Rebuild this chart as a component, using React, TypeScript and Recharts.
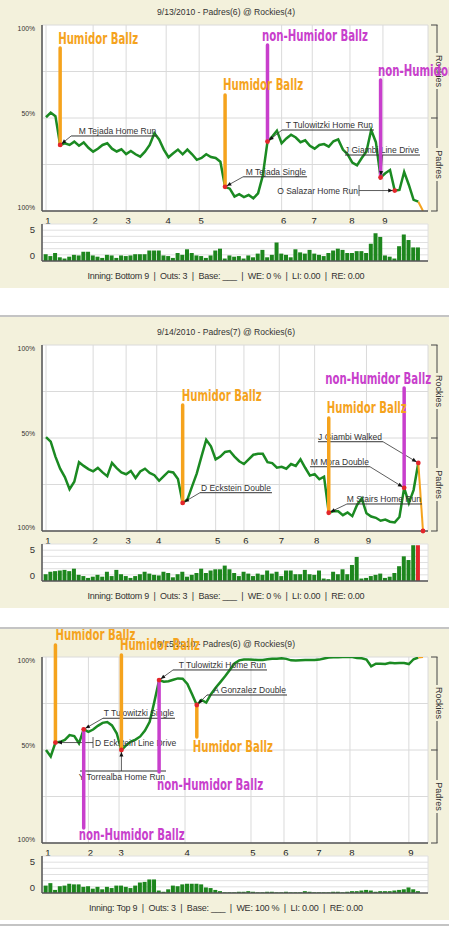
import React from "react";
import {
  LineChart,
  Line,
  BarChart,
  Bar,
  Cell,
  XAxis,
  YAxis,
  CartesianGrid,
  ReferenceLine,
  ReferenceDot,
} from "recharts";

// Rockies win expectancy (%) after each plate appearance, 0 = first pitch
const we0913 = [
  50.4, 52.9, 51, 35.5, 36.4, 35.5, 37.3, 35.1, 36.9, 34,
  31.9, 33.5, 35.5, 36.4, 33.5, 32, 33.2, 30.6, 32.3, 30.5,
  29.2, 31.9, 35.5, 41.8, 38.5, 33, 28.9, 31, 33, 30.5,
  33, 30.5, 27.5, 28.5, 30.5, 29, 28.5, 26.5, 13, 12,
  7.8, 9.1, 7.5, 8.6, 6.8, 9.5, 19, 37.3, 40, 43.2,
  36.4, 39, 41, 39.5, 37, 38, 35, 33.5, 35.5, 36,
  34.6, 37.5, 38.5, 33, 30.5, 26, 24.5, 28.5, 32, 43.5,
  37, 18, 20.3, 22, 11, 11.3, 21, 14, 6, 5,
  0,
];
// leverage index of each plate appearance
const li0913 = [
  1.1, 0.8, 1.3, 0.6, 0.4, 0.7, 1.0, 0.9, 1.5, 1.5,
  0.9, 0.7, 0.5, 1.0, 0.9, 0.5, 0.9, 0.8, 0.9, 1.1,
  1.1, 1.1, 1.7, 1.7, 1.7, 0.9, 0.8, 0.5, 1.3, 1.0,
  1.9, 1.3, 0.9, 0.8, 0.5, 0.9, 1.7, 2.0, 0.4, 0.9,
  0.7, 0.8, 0.4, 0.9, 0.6, 1.2, 1.8, 0.6, 1.0, 3.0,
  1.2, 1.0, 0.6, 1.9, 1.4, 1.2, 1.8, 1.2, 1.0, 0.8,
  1.3, 1.7, 2.0, 1.8, 1.3, 1.3, 1.6, 1.6, 1.3, 2.8,
  4.5, 3.9, 0.9, 0.7, 0.4, 2.4, 4.3, 3.4, 2.2, 2.2,
];
const innings0913 = [0, 10, 17, 25.5, 32.5, 50, 56.5, 64.5, 71.5];

const we0914 = [
  50.5, 48, 40, 33.5, 29, 22.5, 26.5, 37, 35, 33.3,
  32.1, 33.9, 31.5, 29.5, 36.6, 33.8, 31.5, 30.5, 32.3, 28.5,
  32, 33.5, 31.2, 30, 27, 29.5, 32, 31.5, 28, 15.1,
  16.9, 24, 31, 40.1, 49, 45.5, 38.5, 40, 42.5, 43,
  40, 37.5, 36, 38.5, 41, 41.5, 41.5, 37, 36.5, 34,
  34.5, 33.5, 36, 35, 38.5, 34, 29.8, 30.6, 27.8, 29.2,
  9.8, 10.6, 10.6, 8.5, 10, 8, 14, 17.5, 9.5, 7.8,
  7.1, 5.5, 6.1, 5, 4.6, 7.5, 23.2, 15, 22, 36.6,
  0,
];
const li0914 = [
  1.1, 1.5, 1.6, 1.7, 1.8, 1.6, 2.0, 1.0, 0.8, 0.5,
  0.7, 1.0, 0.7, 1.5, 0.8, 1.8, 1.1, 0.8, 0.5, 0.8,
  1.1, 1.5, 1.2, 1.0, 0.9, 1.5, 1.3, 0.6, 1.1, 1.5,
  0.7, 1.0, 1.3, 2.0, 1.3, 1.7, 1.9, 1.9, 2.5, 1.9,
  1.3, 0.8, 1.5, 1.2, 0.8, 1.2, 1.0, 1.7, 1.2, 1.5,
  0.8, 1.7, 1.7, 1.1, 1.1, 1.8, 1.1, 1.0, 1.7, 0.4,
  0.3, 1.5, 1.1, 1.9, 1.1, 2.6, 3.9, 0.4, 0.5, 0.8,
  1.0, 1.2, 0.5, 0.7, 1.3, 2.4, 4.0, 3.4, 5.8, 5.8,
];
const innings0914 = [0, 10, 17, 23.5, 36, 42, 49.5, 57, 68];

const we0915 = [
  50, 46.5, 54, 54.4, 55.4, 58, 57.5, 53.6, 61.1, 59.8,
  61, 63, 64.6, 65, 63.2, 59, 50, 52.5, 54.5, 55.6,
  57.3, 60.5, 65.2, 76, 87.6, 86.7, 87, 87.8, 88.5, 88.3,
  85.5, 80, 74.2, 76.9, 75.5, 80, 83.5, 86.5, 89.6, 93,
  96.5, 98.2, 98.6, 98.6, 98.5, 98.4, 98.4, 98.8, 99, 99.1,
  99.3, 99, 98.2, 98.1, 98.3, 98.4, 98.4, 98.4, 98.6, 99.2,
  99.7, 99.8, 99.9, 100, 100, 100, 99.5, 99.3, 98.6, 95,
  96.4, 96.4, 96.2, 96.9, 96.6, 96.8, 96.8, 96.2, 98.8, 99.7,
  100,
];
const li0915 = [
  1.2, 1.6, 0.5, 1.1, 1.2, 1.5, 1.4, 1.4, 1.0, 1.1,
  0.7, 1.0, 0.6, 1.0, 0.8, 1.2, 1.2, 1.0, 0.8, 1.2,
  1.7, 1.8, 2.2, 2.2, 0.4, 0.2, 0.6, 1.2, 1.1, 1.4,
  1.5, 1.5, 1.5, 1.4, 0.9, 0.8, 0.5, 0.3, 0.1, 0.1,
  0.1, 0.2, 0.2, 0.3, 0.2, 0.1, 0.1, 0.2, 0.2, 0.1,
  0.1, 0.2, 0.1, 0.1, 0.1, 0.3, 0.2, 0.1, 0.1, 0.1,
  0.1, 0.2, 0.2, 0.1, 0.2, 0.3, 0.3, 0.4, 0.5, 0.4,
  0.2, 0.3, 0.3, 0.3, 0.4, 0.5, 0.6, 0.9, 0.6, 0.3,
];
const innings0915 = [0, 9, 15.5, 29.5, 43.5, 50.5, 57.5, 64.5, 77];

// labelled plays
const plays0913 = [
  { pa: 3, text: "M Tejada Home Run" },
  { pa: 38, text: "M Tejada Single" },
  { pa: 47, text: "T Tulowitzki Home Run" },
  { pa: 71, text: "J Giambi Line Drive" },
  { pa: 74, text: "O Salazar Home Run" },
];
const plays0914 = [
  { pa: 29, text: "D Eckstein Double" },
  { pa: 60, text: "M Stairs Home Run" },
  { pa: 76, text: "M Mora Double" },
  { pa: 79, text: "J Giambi Walked" },
];
const plays0915 = [
  { pa: 2, text: "D Eckstein Line Drive" },
  { pa: 8, text: "T Tulowitzki Single" },
  { pa: 16, text: "Y Torrealba Home Run" },
  { pa: 24, text: "T Tulowitzki Home Run" },
  { pa: 32, text: "A Gonzalez Double" },
];

// hand-drawn markers: humidor balls or not
const ballz0913 = [
  { pa: 3, humidor: true },
  { pa: 38, humidor: true },
  { pa: 47, humidor: false },
  { pa: 71, humidor: false },
];
const ballz0914 = [
  { pa: 29, humidor: true },
  { pa: 60, humidor: true },
  { pa: 76, humidor: false },
];
const ballz0915 = [
  { pa: 2, humidor: true },
  { pa: 16, humidor: true },
  { pa: 32, humidor: true },
  { pa: 8, humidor: false },
  { pa: 24, humidor: false },
];

// label placement, pixels from the play's point
type PlayPos =
  | { kind: "line"; ux1: number; ux2: number; uy: number; lx: number }
  | { kind: "bracket"; bx: number };
const playPos0913: PlayPos[] = [
  { kind: "line", ux1: 11, ux2: 97, uy: -9, lx: 11 },
  { kind: "line", ux1: 18, ux2: 82, uy: -10, lx: 18 },
  { kind: "line", ux1: 14.5, ux2: 106.5, uy: -11.6, lx: 14.5 },
  { kind: "line", ux1: -35.6, ux2: 39.4, uy: -22.5, lx: 2 },
  { kind: "bracket", bx: -35.7 },
];
const playPos0914: PlayPos[] = [
  { kind: "line", ux1: 17.3, ux2: 89.3, uy: -10.2, lx: 17.3 },
  { kind: "line", ux1: 18.2, ux2: 93.2, uy: -8.8, lx: 18.2 },
  { kind: "line", ux1: -94.2, ux2: -34.2, uy: -21.1, lx: -34.2 },
  { kind: "line", ux1: -100.3, ux2: -35.3, uy: -21.2, lx: -35.3 },
];
const playPos0915: PlayPos[] = [
  { kind: "bracket", bx: 37.6 },
  { kind: "line", ux1: 19.3, ux2: 91.3, uy: -11.1, lx: 19.3 },
  { kind: "line", ux1: -41.4, ux2: 44.6, uy: 21, lx: 0 },
  { kind: "line", ux1: 13.9, ux2: 107.9, uy: -10.1, lx: 13.9 },
  { kind: "line", ux1: 10.2, ux2: 90.2, uy: -10, lx: 10.2 },
];
// marker stick end (in chart units) and text offset from it
type BallzPos = { to: number; dx: number; dy: number };
const ballzPos0913: BallzPos[] = [
  { to: 87.6, dx: -2, dy: -10 },
  { to: 62.4, dx: -2, dy: -10 },
  { to: 89.2, dx: -5.5, dy: -10 },
  { to: 70.4, dx: -2.6, dy: -10 },
];
const ballzPos0914: BallzPos[] = [
  { to: 67.7, dx: -1, dy: -10 },
  { to: 60.8, dx: -2, dy: -10 },
  { to: 76.9, dx: -79, dy: -9 },
];
const ballzPos0915: BallzPos[] = [
  { to: 106.5, dx: 0, dy: -10 },
  { to: 101.1, dx: -1.5, dy: -10 },
  { to: 57, dx: -4, dy: 10 },
  { to: 8.1, dx: -5, dy: 7 },
  { to: 38.2, dx: -2, dy: 13 },
];

const W = 449;
const PLOT_T = 25;
const PLOT_B = 211;
const X_DOMAIN: [number, number] = [-0.85, 81.06];
const SANS = "'Liberation Sans', Arial, sans-serif";
const BALLZ_FONT = "'DejaVu Sans Condensed', 'DejaVu Sans', sans-serif";
const BEIGE = "#f3f1dc";
const GREEN = "#1b8a22";
const BAR_GREEN = "#1d861d";
const ORANGE = "#f5a31d";
const MAGENTA = "#c83fcc";
const RED = "#e3262b";
const INK = "#333";

type Play = { pa: number; text: string };
type Ballz = { pa: number; humidor: boolean };

const pctTick = (p: any) => {
  const v = p.payload.value;
  if (v !== 0 && v !== 50 && v !== 100) return <g />;
  const dy = v === 100 ? 3 : v === 50 ? -4.5 : -4;
  return (
    <text x={35} y={p.y + dy} textAnchor="end" dominantBaseline="central"
      fontSize={6.8} fill={INK} fontFamily={SANS}>
      {v === 50 ? "50%" : "100%"}
    </text>
  );
};

const liTick = (p: any) => {
  const v = p.payload.value;
  if (v !== 0 && v !== 5) return <g />;
  return (
    <text x={35} y={p.y + (v === 0 ? -6 : -1)} textAnchor="end" dominantBaseline="central"
      fontSize={9.5} fill={INK} fontFamily={SANS}>
      {v}
    </text>
  );
};

const inningTick = (innings: number[]) => (p: any) => (
  <text x={p.x + 2} y={PLOT_B + 12} textAnchor="middle" dominantBaseline="central"
    fontSize={9.5} fill="#222" fontFamily={SANS}>
    {innings.indexOf(p.payload.value) + 1}
  </text>
);

const leadOf = (pos: PlayPos): [number, number] =>
  pos.kind === "bracket" ? [pos.bx, 0] : [pos.lx, pos.uy];

const playShape = (pos: PlayPos, text: string) => (props: any) => {
  const { cx, cy } = props;
  if (typeof cx !== "number" || typeof cy !== "number") return <g />;
  const font = { fontFamily: SANS, fontSize: 8.5, fill: INK };
  if (pos.kind === "bracket") {
    const bx = cx + pos.bx;
    return (
      <g>
        <line x1={bx} y1={cy} x2={cx} y2={cy} stroke={INK} strokeWidth={0.8} />
        <line x1={bx} y1={cy - 5.5} x2={bx} y2={cy + 5.5} stroke={INK} strokeWidth={0.8} />
        <text x={pos.bx < 0 ? bx - 1 : bx + 2} y={cy} textAnchor={pos.bx < 0 ? "end" : "start"}
          dominantBaseline="central" {...font}>
          {text}
        </text>
      </g>
    );
  }
  const ly = cy + pos.uy;
  return (
    <g>
      <line x1={cx} y1={cy} x2={cx + pos.lx} y2={ly} stroke={INK} strokeWidth={0.8} />
      <line x1={cx + pos.ux1} y1={ly} x2={cx + pos.ux2} y2={ly} stroke={INK} strokeWidth={1} />
      <text x={cx + pos.ux2 - 1} y={pos.uy > 0 ? ly + 6 : ly - 5} textAnchor="end"
        dominantBaseline="central" {...font}>
        {text}
      </text>
    </g>
  );
};

const dotShape = (lead: [number, number]) => (props: any) => {
  const { cx, cy } = props;
  if (typeof cx !== "number" || typeof cy !== "number") return <g />;
  const len = Math.hypot(lead[0], lead[1]) || 1;
  const ux = lead[0] / len;
  const uy = lead[1] / len;
  const tx = cx + ux * 2;
  const ty = cy + uy * 2;
  const bx = tx + ux * 4.5;
  const by = ty + uy * 4.5;
  return (
    <g>
      <circle cx={cx} cy={cy} r={2.4} fill={RED} />
      <polygon
        points={`${tx},${ty} ${bx - uy * 2},${by + ux * 2} ${bx + uy * 2},${by - ux * 2}`}
        fill="#111"
      />
    </g>
  );
};

const ballzShape = (b: Ballz, pos: BallzPos) => (props: any) => (
  <text x={props.cx + pos.dx} y={props.cy + pos.dy} dominantBaseline="central"
    fontFamily={BALLZ_FONT} fontWeight={700} fontSize={16}
    fill={b.humidor ? ORANGE : MAGENTA}
    textLength={b.humidor ? 80 : 106} lengthAdjust="spacingAndGlyphs">
    {b.humidor ? "Humidor Ballz" : "non-Humidor Ballz"}
  </text>
);

type PanelProps = {
  top: number;
  title: string;
  footer: string;
  footerWidth: number;
  we: number[];
  li: number[];
  innings: number[];
  plays: Play[];
  playPos: PlayPos[];
  ballz: Ballz[];
  ballzPos: BallzPos[];
  mark?: number;
};

function GamePanel(p: PanelProps) {
  const n = p.we.length - 1;
  const lineData = p.we.map((v, i) => ({
    pa: i,
    we: i < n ? v : null,
    last: i >= n - 1 ? v : null,
  }));
  const barData = p.li.map((v, i) => ({ pa: i, li: v }));
  const mid = (PLOT_T + PLOT_B) / 2;

  return (
    <div style={{ position: "absolute", left: 0, top: p.top - 3, width: W, height: 291, background: BEIGE, overflow: "hidden" }}>
      <div style={{ position: "absolute", left: 0, top: 3, width: W, height: 288 }}>
        <svg width={W} height={288} style={{ position: "absolute", left: 0, top: 0 }}>
          <text x={226} y={12} textAnchor="middle" dominantBaseline="central" fontFamily={SANS}
            fontSize={9} fill={INK} textLength={138} lengthAdjust="spacingAndGlyphs">
            {p.title}
          </text>
          <text x={226} y={276} textAnchor="middle" dominantBaseline="central" fontFamily={SANS}
            fontSize={9} fill={INK} textLength={p.footerWidth} lengthAdjust="spacing"
            style={{ whiteSpace: "pre" }}>
            {p.footer}
          </text>
          <line x1={437} x2={437} y1={PLOT_T} y2={PLOT_B} stroke="#444" />
          {[PLOT_T, mid, PLOT_B].map((y) => (
            <line key={y} x1={431} x2={437.5} y1={y} y2={y} stroke="#444" />
          ))}
          <rect x={433} y={53} width={9} height={36} fill={BEIGE} />
          <text x={439} y={71} transform="rotate(90 439 71)" textAnchor="middle"
            dominantBaseline="central" fontFamily={SANS} fontSize={9} fill={INK}>
            Rockies
          </text>
          <rect x={433} y={148} width={9} height={33} fill={BEIGE} />
          <text x={439} y={164.5} transform="rotate(90 439 164.5)" textAnchor="middle"
            dominantBaseline="central" fontFamily={SANS} fontSize={9} fill={INK}>
            Padres
          </text>
        </svg>

        <div style={{ position: "absolute", left: 0, top: -3 }}>
          <LineChart width={W} height={233} data={lineData}
            margin={{ top: PLOT_T + 3, right: 21, left: 6, bottom: 3 }}>
            <CartesianGrid stroke="#dadada" fill="#fff" />
            <XAxis type="number" dataKey="pa" domain={X_DOMAIN} ticks={p.innings} interval={0}
              allowDataOverflow height={16} tickLine={false} tickSize={0}
              axisLine={{ stroke: "#555", strokeWidth: 1.5 }} tick={inningTick(p.innings)} />
            <YAxis type="number" domain={[0, 100]} ticks={[0, 25, 50, 75, 100]} interval={0}
              allowDataOverflow width={36} tickLine={false}
              axisLine={{ stroke: "#555", strokeWidth: 1.5 }} tick={pctTick} />
            <Line type="linear" dataKey="we" stroke={GREEN} strokeWidth={2.5} dot={false}
              isAnimationActive={false} zIndex={400} />
            <Line type="linear" dataKey="last" stroke={ORANGE} strokeWidth={2} dot={false}
              isAnimationActive={false} zIndex={400} />
            {p.plays.map((pl, i) => (
              <ReferenceDot key={`lab${i}`} x={pl.pa} y={p.we[pl.pa]} r={0}
                ifOverflow="visible" zIndex={500} shape={playShape(p.playPos[i], pl.text)} />
            ))}
            {p.ballz.map((b, i) => (
              <ReferenceLine key={`stick${i}`}
                segment={[{ x: b.pa, y: p.we[b.pa] }, { x: b.pa, y: p.ballzPos[i].to }]}
                stroke={b.humidor ? ORANGE : MAGENTA} strokeWidth={3.5} strokeLinecap="round"
                ifOverflow="visible" zIndex={600} />
            ))}
            {p.plays.map((pl, i) => (
              <ReferenceDot key={`dot${i}`} x={pl.pa} y={p.we[pl.pa]} r={2.4}
                ifOverflow="visible" zIndex={700} shape={dotShape(leadOf(p.playPos[i]))} />
            ))}
            {p.mark !== undefined && (
              <ReferenceDot x={p.mark} y={p.we[p.mark]} r={2.4} fill={RED} stroke="none"
                ifOverflow="visible" zIndex={700} />
            )}
            {p.ballz.map((b, i) => (
              <ReferenceDot key={`txt${i}`} x={b.pa} y={p.ballzPos[i].to} r={0}
                ifOverflow="visible" zIndex={800} shape={ballzShape(b, p.ballzPos[i])} />
            ))}
          </LineChart>
        </div>

        <div style={{ position: "absolute", left: 0, top: 220 }}>
          <BarChart width={W} height={46} data={barData}
            margin={{ top: 4, right: 21, left: 6, bottom: 4 }}>
            <CartesianGrid stroke="#e0e0e0" fill="#fff" />
            <XAxis type="number" dataKey="pa" domain={X_DOMAIN} ticks={p.innings} interval={0}
              allowDataOverflow height={1} tick={false} tickLine={false}
              axisLine={{ stroke: "#555", strokeWidth: 1.5 }} />
            <YAxis type="number" domain={[0, 6]} ticks={[0, 1, 2, 3, 4, 5, 6]} interval={0}
              allowDataOverflow width={36} tickLine={false}
              axisLine={{ stroke: "#555", strokeWidth: 1.5 }} tick={liTick} />
            <Bar dataKey="li" barSize={4} isAnimationActive={false} fill={BAR_GREEN}>
              {barData.map((d, i) => (
                <Cell key={i} fill={p.mark !== undefined && i === p.mark - 1 ? RED : BAR_GREEN} />
              ))}
            </Bar>
          </BarChart>
        </div>
      </div>
    </div>
  );
}

export default function App() {
  return (
    <div style={{ position: "absolute", left: 0, top: 0, width: W, height: 928, background: "#fff", overflow: "hidden" }}>
      <GamePanel top={0} title="9/13/2010 - Padres(6) @ Rockies(4)"
        footer="Inning: Bottom 9  |  Outs: 3  |  Base: ___  |  WE: 0 %  |  LI: 0.00  |  RE: 0.00"
        footerWidth={277} we={we0913} li={li0913} innings={innings0913}
        plays={plays0913} playPos={playPos0913} ballz={ballz0913} ballzPos={ballzPos0913} />
      <div style={{ position: "absolute", left: 0, top: 315, width: W, height: 1.5, background: "#c4c4c4" }} />
      <GamePanel top={320} title="9/14/2010 - Padres(7) @ Rockies(6)"
        footer="Inning: Bottom 9  |  Outs: 3  |  Base: ___  |  WE: 0 %  |  LI: 0.00  |  RE: 0.00"
        footerWidth={277} we={we0914} li={li0914} innings={innings0914}
        plays={plays0914} playPos={playPos0914} ballz={ballz0914} ballzPos={ballzPos0914}
        mark={80} />
      <div style={{ position: "absolute", left: 0, top: 627, width: W, height: 1.5, background: "#c4c4c4" }} />
      <GamePanel top={632} title="9/15/2010 - Padres(6) @ Rockies(9)"
        footer="Inning: Top 9  |  Outs: 3  |  Base: ___  |  WE: 100 %  |  LI: 0.00  |  RE: 0.00"
        footerWidth={274} we={we0915} li={li0915} innings={innings0915}
        plays={plays0915} playPos={playPos0915} ballz={ballz0915} ballzPos={ballzPos0915} />
      <div style={{ position: "absolute", left: 0, top: 924, width: W, height: 1.5, background: "#c4c4c4" }} />
    </div>
  );
}
